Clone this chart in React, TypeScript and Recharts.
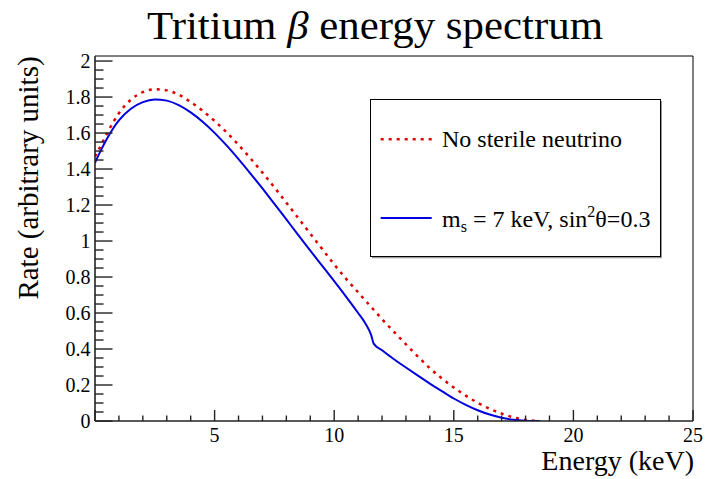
import React from 'react';
import { LineChart, Line, XAxis, YAxis, Legend } from 'recharts';

// Electron kinetic energy (keV)
const energy = [0, 0.25, 0.5, 0.75, 1, 1.5, 2, 2.5, 3, 3.5, 4, 4.5, 5, 5.5, 6, 6.5, 7, 7.5, 8, 8.5, 9, 9.5, 10, 10.5, 11, 11.3, 11.55, 11.65, 12, 12.5, 13, 13.5, 14, 14.5, 15, 15.5, 16, 16.5, 17, 17.5, 18, 18.3, 18.6];

// Spectrum without a sterile neutrino
const rateNoSterile = [1.47, 1.532, 1.597, 1.657, 1.71, 1.785, 1.827, 1.843, 1.837, 1.813, 1.772, 1.724, 1.667, 1.604, 1.534, 1.459, 1.38, 1.298, 1.213, 1.127, 1.041, 0.955, 0.87, 0.79, 0.715, 0.67, 0.633, 0.618, 0.566, 0.495, 0.426, 0.358, 0.293, 0.237, 0.186, 0.141, 0.101, 0.068, 0.041, 0.02, 0.006, 0.002, 0];

// Spectrum with m_s = 7 keV, sin^2(theta) = 0.3
const rateSterile = [1.435, 1.505, 1.568, 1.624, 1.67, 1.735, 1.772, 1.787, 1.78, 1.755, 1.715, 1.663, 1.601, 1.531, 1.455, 1.375, 1.292, 1.207, 1.12, 1.033, 0.947, 0.862, 0.777, 0.69, 0.6, 0.543, 0.476, 0.43, 0.393, 0.343, 0.297, 0.252, 0.208, 0.166, 0.125, 0.09, 0.06, 0.036, 0.018, 0.007, 0.002, 0.0005, 0];

const xTicks = [0, 1, 2, 3, 4, 5, 6, 7, 8, 9, 10, 11, 12, 13, 14, 15, 16, 17, 18, 19, 20, 21, 22, 23, 24, 25];
const xTickLabels = ['5', '10', '15', '20', '25'];
const yTickLabels = ['0', '0.2', '0.4', '0.6', '0.8', '1', '1.2', '1.4', '1.6', '1.8', '2'];
const yTicks = Array.from({ length: 41 }, (_, i) => i * 0.05);

const data = energy.map((e, i) => ({ e, noSterile: rateNoSterile[i], sterile: rateSterile[i] }));

const FONT = '"Liberation Serif", "Times New Roman", serif';
const RED = '#e00000';
const BLUE = '#0000e0';
const AXIS = '#222';

const XTick = (props: any) => {
  const { x, y, payload } = props;
  const v = payload.value;
  const label = xTickLabels.find((l) => Number(l) === v);
  const major = v % 5 === 0;
  return (
    <g>
      <line x1={x} x2={x} y1={y} y2={y - (major ? 11 : 5.5)} stroke={AXIS} strokeWidth={1.4} />
      {label && (
        <text x={x} y={y + 20.5} textAnchor="middle" fontSize={20} fontFamily={FONT} fill="#000">
          {label}
        </text>
      )}
    </g>
  );
};

const YTick = (props: any) => {
  const { x, y, payload } = props;
  const hundredths = Math.round(payload.value * 100);
  const major = hundredths % 20 === 0;
  const label = major ? yTickLabels[hundredths / 20] : null;
  return (
    <g>
      <line x1={x} x2={x + (major ? 17.5 : 8.5)} y1={y} y2={y} stroke={AXIS} strokeWidth={1.4} />
      {label && (
        <text x={x - 4.5} y={y + 7} textAnchor="end" fontSize={20} fontFamily={FONT} fill="#000">
          {label}
        </text>
      )}
    </g>
  );
};

const LegendBox = () => (
  <svg width={294} height={161} style={{ display: 'block', overflow: 'visible' }}>
    <line x1={2} y1={158.5} x2={292} y2={158.5} stroke="#999" strokeWidth={1.5} />
    <line x1={291.5} y1={2} x2={291.5} y2={159} stroke="#999" strokeWidth={1} />
    <rect x={0.5} y={0.5} width={290} height={157} fill="#fff" stroke="#000" strokeWidth={1} />
    <line x1={10.7} x2={61.7} y1={40.3} y2={40.3} stroke={RED} strokeWidth={2.5} strokeDasharray="3 5" />
    <text x={72} y={47.7} fontSize={24} fontFamily={FONT} fill="#000">No sterile neutrino</text>
    <line x1={10.7} x2={61.7} y1={119} y2={119} stroke={BLUE} strokeWidth={2} />
    <text x={72} y={127.5} fontSize={24} fontFamily={FONT} fill="#000">
      m<tspan fontSize={16} dy={5}>s</tspan>
      <tspan dy={-5}> = 7 keV, sin</tspan>
      <tspan fontSize={16} dy={-10}>2</tspan>
      <tspan dy={10}>θ=0.3</tspan>
    </text>
  </svg>
);

export default function App() {
  return (
    <div style={{ position: 'absolute', left: 0, top: 0, width: 706, height: 479, background: '#fff' }}>
      <LineChart
        width={706}
        height={479}
        data={data}
        margin={{ top: 55, right: 12, bottom: 28, left: 35 }}
      >
        <XAxis
          dataKey="e"
          type="number"
          domain={[0, 25]}
          ticks={xTicks}
          interval={0}
          tick={<XTick />}
          tickLine={false}
          tickSize={0}
          tickMargin={0}
          height={30}
          axisLine={{ stroke: AXIS, strokeWidth: 1.6 }}
          allowDataOverflow
        />
        <XAxis
          xAxisId="top"
          orientation="top"
          type="number"
          domain={[0, 25]}
          tick={false}
          tickLine={false}
          height={1}
          axisLine={{ stroke: '#000', strokeWidth: 1 }}
        />
        <YAxis
          type="number"
          domain={[0, 2.028]}
          ticks={yTicks}
          interval={0}
          tick={<YTick />}
          tickLine={false}
          tickSize={0}
          tickMargin={0}
          width={60}
          axisLine={{ stroke: AXIS, strokeWidth: 1.6 }}
          allowDataOverflow
        />
        <YAxis
          yAxisId="right"
          orientation="right"
          type="number"
          domain={[0, 2.028]}
          tick={false}
          tickLine={false}
          width={1}
          axisLine={{ stroke: '#000', strokeWidth: 1 }}
        />
        <Legend
          layout="vertical"
          align="center"
          verticalAlign="middle"
          content={() => <LegendBox />}
          wrapperStyle={{ position: 'absolute', left: 370, top: 99, width: 294, height: 161 }}
        />
        <Line
          type="monotone"
          dataKey="noSterile"
          name="No sterile neutrino"
          stroke={RED}
          strokeWidth={2.5}
          strokeDasharray="3 5"
          dot={false}
          activeDot={false}
          isAnimationActive={false}
        />
        <Line
          type="monotone"
          dataKey="sterile"
          name="m_s = 7 keV"
          stroke={BLUE}
          strokeWidth={2}
          dot={false}
          activeDot={false}
          isAnimationActive={false}
        />
      </LineChart>
      <svg
        width={706}
        height={479}
        style={{ position: 'absolute', left: 0, top: 0, pointerEvents: 'none' }}
      >
        <text
          x={147}
          y={38.5}
          fontSize={39}
          fontFamily={FONT}
          fill="#000"
          textLength={456}
          lengthAdjust="spacingAndGlyphs"
        >
          Tritium <tspan fontStyle="italic">β</tspan> energy spectrum
        </text>
        <text
          x={38}
          y={178}
          transform="rotate(-90 38 178)"
          textAnchor="middle"
          fontSize={29}
          fontFamily={FONT}
          fill="#000"
        >
          Rate (arbitrary units)
        </text>
        <text x={694} y={470} textAnchor="end" fontSize={28} fontFamily={FONT} fill="#000">
          Energy (keV)
        </text>
      </svg>
    </div>
  );
}
